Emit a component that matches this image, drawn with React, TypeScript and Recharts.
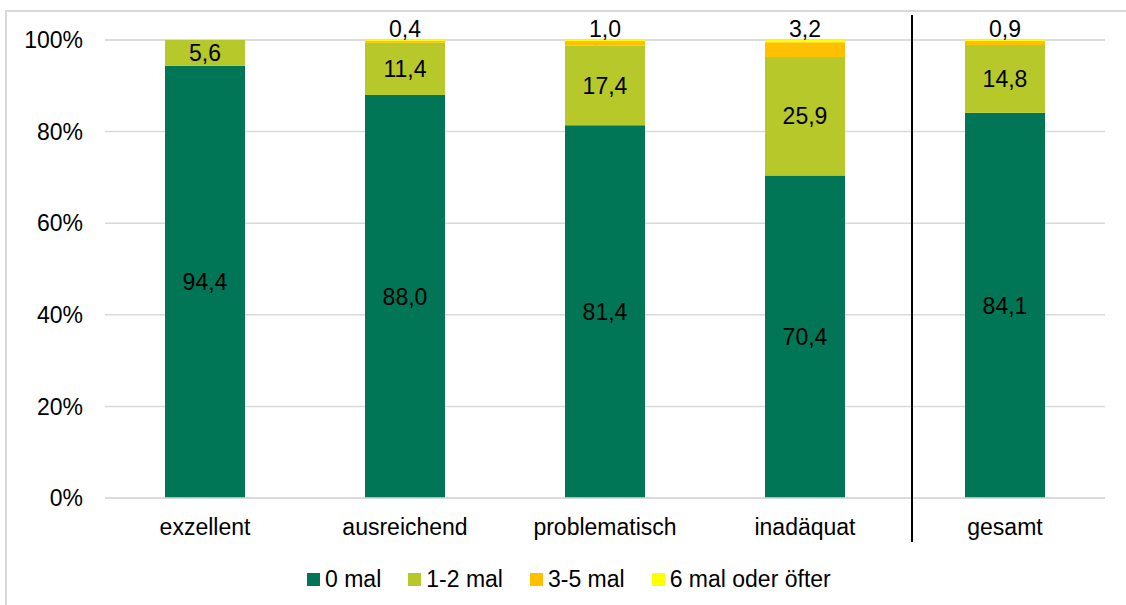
import React from 'react';
import { BarChart, Bar, XAxis, YAxis, CartesianGrid, LabelList, Legend } from 'recharts';

const categories = ['exzellent', 'ausreichend', 'problematisch', 'inadäquat', 'gesamt'];
const mal0 = [94.4, 88.0, 81.4, 70.4, 84.1];
const mal12 = [5.6, 11.4, 17.4, 25.9, 14.8];
const mal35 = [0, 0.4, 1.0, 3.2, 0.9];
const mal6 = [0, 0.2, 0.2, 0.5, 0.2];
const yTicks = [0, 20, 40, 60, 80, 100];

const seriesNames = ['0 mal', '1-2 mal', '3-5 mal', '6 mal oder öfter'];
const seriesColors = ['#007656', '#b7c82b', '#ffc000', '#ffff00'];

const data = categories.map((c, i) => ({
  name: c,
  m0: mal0[i],
  m12: mal12[i],
  m35: mal35[i],
  m6: mal6[i],
}));

const FONT = '"Liberation Sans", Arial, sans-serif';
const fmt = (v: any) => {
  const n = Number(v);
  if (!n) return '';
  return n.toFixed(1).replace('.', ',');
};

const LegendContent = () => (
  <div style={{ display: 'flex', alignItems: 'center', height: 26, paddingLeft: 307, fontFamily: FONT, fontSize: 23, color: '#000' }}>
    {seriesNames.map((n, i) => (
      <div key={n} style={{ display: 'flex', alignItems: 'center', marginRight: 27 }}>
        <span style={{ display: 'inline-block', width: 13, height: 13, background: seriesColors[i], marginRight: 5 }} />
        <span style={{ lineHeight: '26px' }}>{n}</span>
      </div>
    ))}
  </div>
);

export default function App() {
  return (
    <div style={{ position: 'absolute', left: 0, top: 0, width: 1126, height: 605, overflow: 'hidden', background: '#fff' }}>
      <div style={{ position: 'absolute', left: 5, top: 10, width: 1400, height: 900, borderLeft: '2px solid #d9d9d9', borderTop: '2px solid #d9d9d9' }} />
      <div style={{ position: 'absolute', left: 0, top: 0 }}>
        <BarChart
          width={1126}
          height={605}
          data={data}
          margin={{ top: 40, right: 21, left: 0, bottom: 13 }}
          barSize={80}
          style={{ fontFamily: FONT }}
        >
          <CartesianGrid vertical={false} stroke="#d9d9d9" strokeWidth={1.5} />
          <XAxis
            dataKey="name"
            height={68}
            tickSize={0}
            tickMargin={21}
            axisLine={{ stroke: '#d9d9d9', strokeWidth: 1.5 }}
            tick={{ fill: '#000', fontSize: 23, fontFamily: FONT }}
            interval={0}
          />
          <YAxis
            width={105}
            domain={[0, 100]}
            ticks={yTicks}
            tickFormatter={(v: number) => `${v}%`}
            axisLine={false}
            tickSize={0}
            tickMargin={22}
            tick={{ fill: '#000', fontSize: 23, fontFamily: FONT }}
          />
          <Legend verticalAlign="bottom" content={LegendContent} />
          <Bar dataKey="m0" stackId="a" fill={seriesColors[0]} name={seriesNames[0]} isAnimationActive={false}>
            <LabelList dataKey="m0" position="center" formatter={fmt} fill="#000" fontSize={23} fontFamily={FONT} />
          </Bar>
          <Bar dataKey="m12" stackId="a" fill={seriesColors[1]} name={seriesNames[1]} isAnimationActive={false}>
            <LabelList dataKey="m12" position="center" formatter={fmt} fill="#000" fontSize={23} fontFamily={FONT} />
          </Bar>
          <Bar dataKey="m35" stackId="a" fill={seriesColors[2]} name={seriesNames[2]} isAnimationActive={false} />
          <Bar dataKey="m6" stackId="a" fill={seriesColors[3]} name={seriesNames[3]} isAnimationActive={false}>
            <LabelList dataKey="m35" position="top" offset={3} formatter={fmt} fill="#000" fontSize={23} fontFamily={FONT} />
          </Bar>
        </BarChart>
      </div>
      <div style={{ position: 'absolute', left: 911, top: 15, width: 2, height: 527, background: '#000' }} />
    </div>
  );
}
